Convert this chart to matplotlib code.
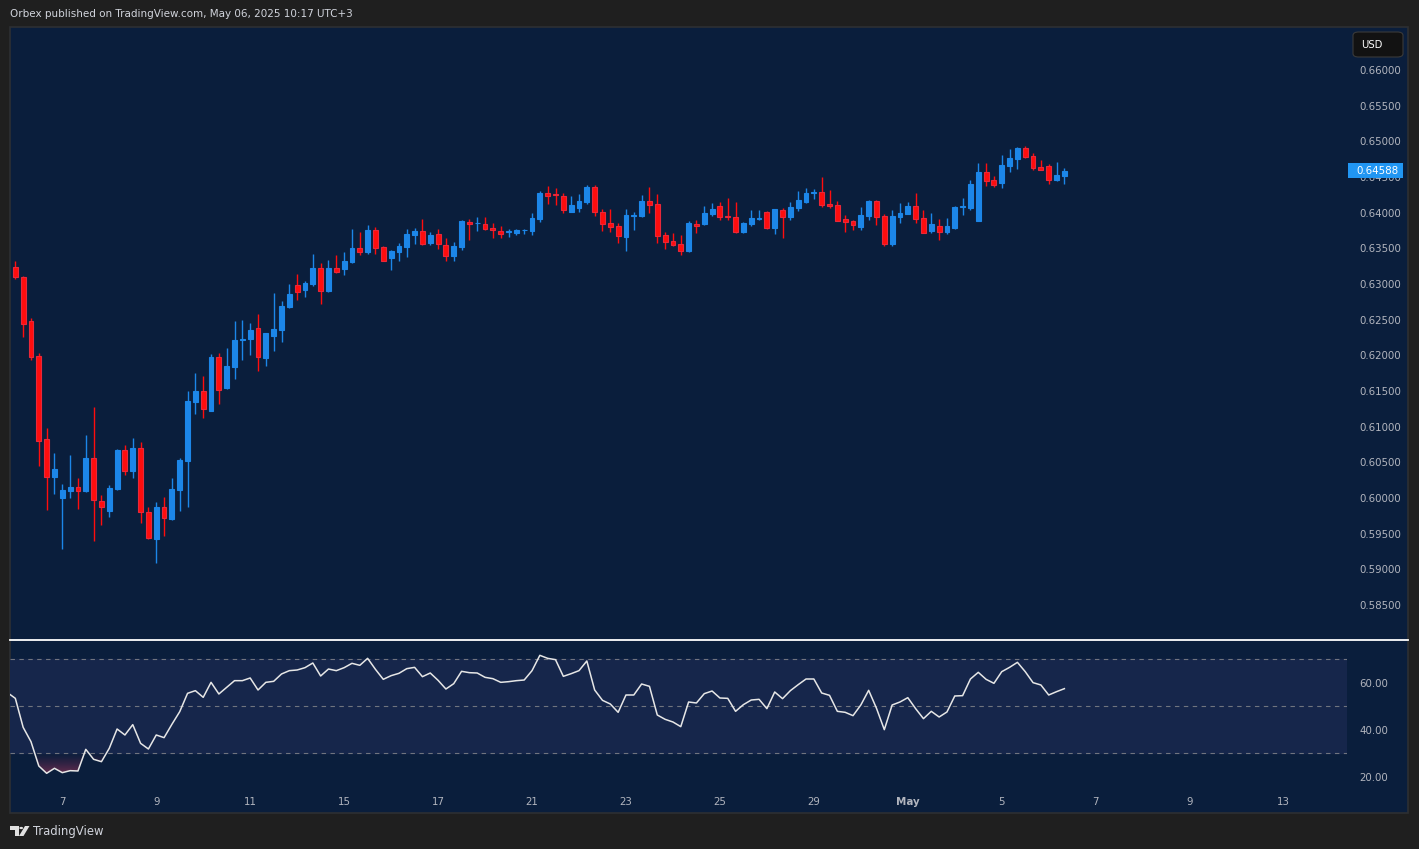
"""
plot.py — 4h candlestick chart with an RSI(14) pane, drawn in the
dark-navy TradingView snapshot style.
"""

import matplotlib
matplotlib.use("Agg")  # headless
import matplotlib.pyplot as plt
import matplotlib.transforms as mtransforms
import numpy as np
from matplotlib.colors import LinearSegmentedColormap
from matplotlib.lines import Line2D
from matplotlib.patches import FancyBboxPatch, Polygon, Rectangle, Circle
from matplotlib.path import Path


opens = [
    0.63234, 0.63105, 0.62481, 0.61991, 0.60827, 0.60299, 0.60005, 0.60103, 0.60149, 0.60098,
    0.60556, 0.59953, 0.59822, 0.60126, 0.60668, 0.60383, 0.60696, 0.59799, 0.59430, 0.59869,
    0.59706, 0.60117, 0.60523, 0.61350, 0.61495, 0.61224, 0.61972, 0.61547, 0.61841, 0.62220,
    0.62234, 0.62378, 0.61967, 0.62276, 0.62360, 0.62682, 0.62981, 0.62921, 0.63005, 0.63220,
    0.62902, 0.63220, 0.63215, 0.63308, 0.63500, 0.63449, 0.63752, 0.63514, 0.63364, 0.63453,
    0.63519, 0.63687, 0.63738, 0.63579, 0.63696, 0.63542, 0.63392, 0.63519, 0.63869, 0.63850,
    0.63836, 0.63785, 0.63738, 0.63724, 0.63720, 0.63752, 0.63743, 0.63911, 0.64276, 0.64248,
    0.64234, 0.64009, 0.64070, 0.64150, 0.64360, 0.64009, 0.63855, 0.63813, 0.63659, 0.63958,
    0.63953, 0.64164, 0.64122, 0.63682, 0.63603, 0.63561, 0.63463, 0.63846, 0.63841, 0.63981,
    0.64089, 0.63953, 0.63935, 0.63729, 0.63841, 0.63911, 0.64009, 0.63785, 0.64037, 0.63939,
    0.64065, 0.64150, 0.64271, 0.64290, 0.64117, 0.64108, 0.63911, 0.63883, 0.63799, 0.63953,
    0.64164, 0.63953, 0.63561, 0.63939, 0.63981, 0.64094, 0.63925, 0.63748, 0.63813, 0.63729,
    0.63785, 0.64079, 0.64065, 0.63888, 0.64570, 0.64458, 0.64416, 0.64654, 0.64752, 0.64907,
    0.64794, 0.64640, 0.64654, 0.64458, 0.64514,
]
highs = [
    0.63322, 0.63112, 0.62519, 0.62028, 0.60977, 0.60626, 0.60196, 0.60603, 0.60280, 0.60883,
    0.61276, 0.60042, 0.60182, 0.60687, 0.60743, 0.60841, 0.60785, 0.59874, 0.59944, 0.60014,
    0.60280, 0.60561, 0.61500, 0.61752, 0.61710, 0.62019, 0.62033, 0.62103, 0.62481, 0.62495,
    0.62453, 0.62579, 0.62315, 0.62874, 0.62762, 0.63000, 0.63140, 0.63042, 0.63421, 0.63294,
    0.63336, 0.63407, 0.63449, 0.63771, 0.63729, 0.63827, 0.63799, 0.63528, 0.63477, 0.63575,
    0.63771, 0.63785, 0.63911, 0.63729, 0.63771, 0.63645, 0.63589, 0.63897, 0.63911, 0.63939,
    0.63939, 0.63855, 0.63813, 0.63771, 0.63771, 0.63771, 0.63995, 0.64304, 0.64374, 0.64346,
    0.64276, 0.64234, 0.64262, 0.64388, 0.64388, 0.64051, 0.64051, 0.63855, 0.64051, 0.64009,
    0.64248, 0.64360, 0.64262, 0.63729, 0.63715, 0.63687, 0.63883, 0.63897, 0.64094, 0.64136,
    0.64150, 0.64206, 0.64150, 0.63869, 0.64037, 0.64037, 0.64023, 0.64051, 0.64065, 0.64150,
    0.64304, 0.64346, 0.64332, 0.64500, 0.64318, 0.64164, 0.63967, 0.63897, 0.64079, 0.64178,
    0.64178, 0.63981, 0.64037, 0.64136, 0.64150, 0.64276, 0.64037, 0.63995, 0.63911, 0.63925,
    0.64094, 0.64206, 0.64458, 0.64696, 0.64696, 0.64514, 0.64808, 0.64893, 0.64921, 0.64935,
    0.64837, 0.64738, 0.64682, 0.64710, 0.64626,
]
lows = [
    0.63070, 0.62262, 0.61934, 0.60449, 0.59832, 0.60056, 0.59285, 0.60000, 0.59846, 0.60084,
    0.59397, 0.59621, 0.59738, 0.60112, 0.60322, 0.60280, 0.59654, 0.59430, 0.59093, 0.59472,
    0.59696, 0.59822, 0.59878, 0.61182, 0.61126, 0.61220, 0.61322, 0.61533, 0.61673, 0.61939,
    0.62009, 0.61785, 0.61855, 0.62065, 0.62192, 0.62668, 0.62780, 0.62822, 0.62972, 0.62724,
    0.62888, 0.63154, 0.63131, 0.63294, 0.63411, 0.63421, 0.63425, 0.63327, 0.63196, 0.63327,
    0.63378, 0.63561, 0.63547, 0.63547, 0.63491, 0.63327, 0.63327, 0.63477, 0.63617, 0.63743,
    0.63757, 0.63645, 0.63645, 0.63659, 0.63687, 0.63706, 0.63687, 0.63869, 0.64122, 0.64107,
    0.63995, 0.64009, 0.64009, 0.64122, 0.63953, 0.63743, 0.63729, 0.63575, 0.63463, 0.63757,
    0.63939, 0.63995, 0.63575, 0.63491, 0.63533, 0.63407, 0.63449, 0.63715, 0.63827, 0.63953,
    0.63897, 0.63897, 0.63715, 0.63715, 0.63813, 0.63897, 0.63771, 0.63701, 0.63645, 0.63897,
    0.64023, 0.64136, 0.64192, 0.64079, 0.64065, 0.63888, 0.63729, 0.63757, 0.63757, 0.63897,
    0.63827, 0.63533, 0.63533, 0.63855, 0.63981, 0.63855, 0.63720, 0.63715, 0.63617, 0.63701,
    0.63771, 0.63967, 0.64037, 0.64108, 0.64374, 0.64360, 0.64346, 0.64570, 0.64612, 0.64766,
    0.64598, 0.64603, 0.64402, 0.64444, 0.64402,
]
closes = [
    0.63103, 0.62444, 0.61981, 0.60804, 0.60299, 0.60406, 0.60112, 0.60154, 0.60103, 0.60561,
    0.59977, 0.59869, 0.60140, 0.60673, 0.60383, 0.60701, 0.59799, 0.59435, 0.59874, 0.59715,
    0.60126, 0.60533, 0.61360, 0.61500, 0.61252, 0.61977, 0.61519, 0.61850, 0.62215, 0.62229,
    0.62355, 0.61972, 0.62313, 0.62369, 0.62692, 0.62860, 0.62893, 0.63014, 0.63224, 0.62907,
    0.63224, 0.63173, 0.63322, 0.63505, 0.63453, 0.63757, 0.63509, 0.63327, 0.63463, 0.63533,
    0.63701, 0.63743, 0.63565, 0.63687, 0.63565, 0.63397, 0.63533, 0.63883, 0.63846, 0.63860,
    0.63776, 0.63762, 0.63706, 0.63729, 0.63752, 0.63762, 0.63925, 0.64276, 0.64238, 0.64243,
    0.64042, 0.64107, 0.64164, 0.64360, 0.64014, 0.63846, 0.63804, 0.63678, 0.63967, 0.63967,
    0.64164, 0.64112, 0.63678, 0.63593, 0.63551, 0.63467, 0.63855, 0.63818, 0.63995, 0.64051,
    0.63944, 0.63939, 0.63734, 0.63855, 0.63925, 0.63925, 0.63785, 0.64051, 0.63944, 0.64079,
    0.64178, 0.64276, 0.64276, 0.64112, 0.64094, 0.63888, 0.63874, 0.63832, 0.63967, 0.64164,
    0.63939, 0.63565, 0.63953, 0.63995, 0.64094, 0.63911, 0.63720, 0.63841, 0.63734, 0.63813,
    0.64079, 0.64094, 0.64402, 0.64570, 0.64444, 0.64393, 0.64668, 0.64766, 0.64907, 0.64780,
    0.64626, 0.64603, 0.64458, 0.64528, 0.64588,
]
# RSI starts one bar before the first visible candle (cut by the left edge)
rsi = [
    55.80,
    53.39, 41.05, 34.95, 24.60, 21.48, 23.61, 21.76, 22.61, 22.47, 31.69,
    27.44, 26.44, 32.12, 40.34, 37.79, 42.19, 34.24, 31.83, 37.79, 36.66,
    42.33, 47.72, 55.52, 56.66, 53.82, 60.20, 55.24, 58.07, 60.91, 60.91,
    62.05, 56.94, 60.20, 60.63, 63.75, 65.17, 65.45, 66.44, 68.43, 62.90,
    65.87, 65.17, 66.44, 68.29, 67.43, 70.41, 65.73, 61.48, 63.04, 64.03,
    66.02, 66.58, 62.61, 64.17, 61.05, 57.36, 59.63, 64.88, 64.31, 64.17,
    62.33, 61.76, 60.20, 60.48, 60.91, 61.19, 65.17, 71.69, 70.41, 69.85,
    62.75, 63.89, 65.17, 69.28, 56.94, 52.54, 50.98, 47.44, 54.81, 54.81,
    59.49, 58.50, 46.30, 44.46, 43.32, 41.34, 51.83, 51.41, 55.38, 56.51,
    53.53, 53.39, 47.86, 50.70, 52.68, 52.97, 49.00, 56.09, 53.25, 56.66,
    59.21, 61.62, 61.62, 55.66, 54.67, 47.86, 47.44, 46.02, 50.56, 56.80,
    49.14, 40.06, 50.56, 51.83, 53.68, 49.00, 44.74, 47.86, 45.45, 47.58,
    54.39, 54.53, 61.62, 64.46, 61.48, 59.78, 64.74, 66.58, 68.71, 64.74,
    60.06, 59.07, 54.81, 56.23, 57.51,
]

price_ticks = [0.585, 0.590, 0.595, 0.600, 0.605, 0.610, 0.615, 0.620,
               0.625, 0.630, 0.635, 0.640, 0.645, 0.650, 0.655, 0.660]
rsi_levels = [30, 50, 70]
rsi_ticks = [20, 40, 60]
# bar index of the first 4h candle of each labelled day
date_ticks = [6, 18, 30, 42, 54, 66, 78, 90, 102, 114, 126, 138, 150, 162]
date_labels = ["7", "9", "11", "15", "17", "21", "23", "25", "29",
               "May", "5", "7", "9", "13"]
last_price = closes[-1]


# ── Style ───────────────────────────────────────────────────────────────────

W, H = 1419, 849
OUTER_BG = "#1f1f1f"
PANE_BG = "#0a1e3c"
BAND_BG = "#16264b"
UP = "#1c86e8"
DOWN = "#ff0d0d"
DOWN_EDGE = "#e8283a"
TEXT = "#b2b5be"
LABEL_SIZE = 7.4
X_RANGE = (-0.68, 170.1)


def px_rect(x0, y0, x1, y1):
    """Pixel box (top-left origin) -> figure-fraction rect."""
    return [x0 / W, 1 - y1 / H, (x1 - x0) / W, (y1 - y0) / H]


def fpt(x, y):
    """Pixel point (top-left origin) -> figure fraction."""
    return (x / W, 1 - y / H)


def style_axes(ax):
    ax.set_facecolor("none")
    for s in ax.spines.values():
        s.set_visible(False)
    ax.yaxis.tick_right()
    ax.tick_params(axis="y", length=0, pad=9, labelsize=LABEL_SIZE,
                   labelcolor=TEXT)
    ax.set_xlim(*X_RANGE)


# ── Figure ──────────────────────────────────────────────────────────────────

fig = plt.figure(figsize=(W / 100, H / 100), dpi=100, facecolor=OUTER_BG)

fig.add_artist(Rectangle(fpt(10, 813), 1398 / W, 786 / H,
                         transform=fig.transFigure, facecolor=PANE_BG,
                         edgecolor="#2d2f33", linewidth=1.2, zorder=0))

# price pane
ax = fig.add_axes(px_rect(10, 27, 1347, 639))
style_axes(ax)
ax.set_ylim(0.58023, 0.66603)

x = np.arange(len(opens))
o, h, l, c = (np.array(v) for v in (opens, highs, lows, closes))
up = c >= o
face = np.where(up, UP, DOWN)
edge = np.where(up, UP, DOWN_EDGE)

ax.vlines(x, l, h, colors=face, linewidth=1.0, zorder=2)
ax.bar(x, np.maximum(np.abs(c - o), 0.00012), bottom=np.minimum(o, c),
       width=0.62, color=face, edgecolor=edge, linewidth=0.8, zorder=3)

ax.set_yticks(price_ticks)
ax.set_yticklabels([f"{v:.5f}" for v in price_ticks])
ax.set_xticks([])

# last-price tag on the scale
span = ax.get_ylim()[1] - ax.get_ylim()[0]
half = 7.5 * span / 612
tag_tr = mtransforms.blended_transform_factory(fig.transFigure, ax.transData)
ax.add_artist(Rectangle((1348 / W, last_price - half), 55 / W, 2 * half,
                        transform=tag_tr, facecolor="#2196f3",
                        edgecolor="none", clip_on=False, zorder=10))
ax.text(1356 / W, last_price, f"{last_price:.5f}", transform=tag_tr,
        ha="left", va="center", fontsize=LABEL_SIZE, color="white",
        zorder=11, clip_on=False)

# USD badge
fig.add_artist(FancyBboxPatch(fpt(1353, 57), 50 / W, 25 / H,
                              boxstyle="round,pad=0,rounding_size=0.004",
                              transform=fig.transFigure, facecolor="#121212",
                              edgecolor="#3a3a3a", linewidth=0.8, zorder=5))
fig.text(*fpt(1361, 44.5), "USD", fontsize=7.2, color="white",
         va="center", zorder=6)

# pane separator
fig.add_artist(Line2D([10 / W, 1408 / W], [1 - 640 / H] * 2,
                      transform=fig.transFigure, color="white", linewidth=1.3))

# RSI pane
rx = fig.add_axes(px_rect(10, 641, 1347, 790))
style_axes(rx)
rx.axhspan(rsi_levels[0], rsi_levels[-1], color=BAND_BG, zorder=0)
for lvl in rsi_levels:
    rx.axhline(lvl, color="#70747f", linewidth=0.8, dashes=(4, 4), zorder=1)

r = np.array(rsi)
xr = np.arange(-1, len(rsi) - 1)

# oversold zone: reddish gradient, fading towards the 30 line
zone = rx.fill_between(xr, r, rsi_levels[0], where=r < rsi_levels[0],
                       interpolate=True, facecolor="none", edgecolor="none")
clip = Path.make_compound_path(*zone.get_paths())
fade = LinearSegmentedColormap.from_list(
    "fade", [(0.62, 0.22, 0.36, 0.75), (0.45, 0.15, 0.30, 0.0)])
img = rx.imshow(np.linspace(0, 1, 64).reshape(-1, 1), cmap=fade,
                extent=[X_RANGE[0], X_RANGE[1], 20, 30], origin="lower",
                aspect="auto", zorder=2, interpolation="bilinear")
img.set_clip_path(clip, rx.transData)

rx.plot(xr, r, color="#e6e6e6", linewidth=1.1, zorder=3)

rx.set_xlim(*X_RANGE)
rx.set_ylim(14.38, 77.79)
rx.set_yticks(rsi_ticks)
rx.set_yticklabels([f"{v:.2f}" for v in rsi_ticks])
rx.set_xticks(date_ticks)
rx.set_xticklabels(date_labels)
rx.tick_params(axis="x", length=0, pad=5, labelsize=LABEL_SIZE,
               labelcolor=TEXT)
for lab in rx.get_xticklabels():
    if lab.get_text() == "May":
        lab.set_fontweight("bold")

# header
fig.text(*fpt(10, 14),
         "Orbex published on TradingView.com, May 06, 2025 10:17 UTC+3",
         fontsize=7.5, color="#d1d4dc", va="center")

# footer logo: "T" block, dot and slanted stroke, then the wordmark
logo = "#e0e0e0"
fig.add_artist(Polygon([fpt(10, 826), fpt(18.5, 826), fpt(18.5, 836),
                        fpt(14.5, 836), fpt(14.5, 829.5), fpt(10, 829.5)],
                       closed=True, transform=fig.transFigure,
                       facecolor=logo, edgecolor="none"))
fig.add_artist(Circle(fpt(21.2, 828), 1.9 / W, transform=fig.transFigure,
                      facecolor=logo, edgecolor="none"))
fig.add_artist(Polygon([fpt(25, 826), fpt(29.5, 826), fpt(23.5, 836),
                        fpt(19, 836)],
                       closed=True, transform=fig.transFigure,
                       facecolor=logo, edgecolor="none"))
fig.text(*fpt(33, 831), "TradingView", fontsize=8.4, color="#d1d4dc",
         va="center")

fig.savefig("out.png", dpi=100, facecolor=OUTER_BG)
plt.close(fig)
